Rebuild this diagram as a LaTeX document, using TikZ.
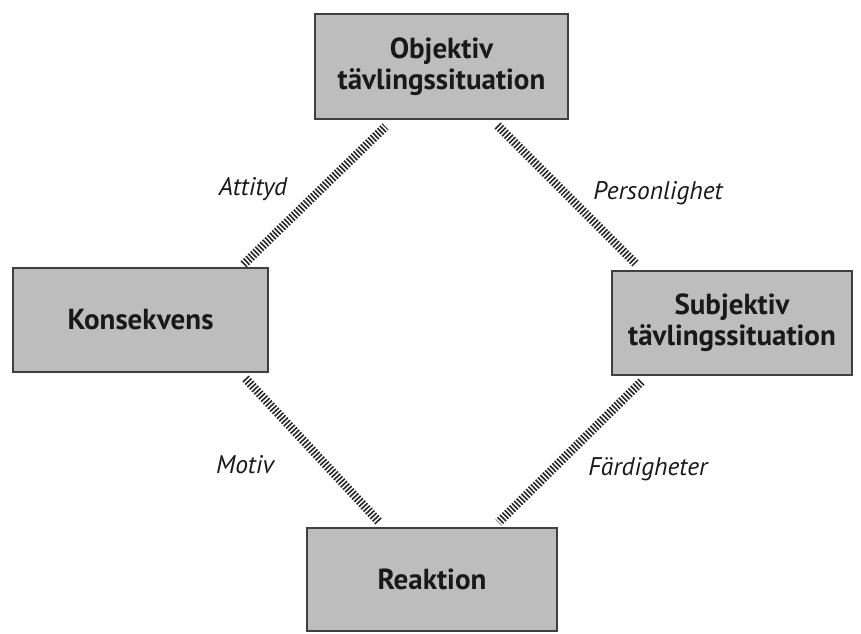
\documentclass[tikz,border=0pt]{standalone}
\usepackage{fontspec}
\setmainfont{PT Sans}
\usetikzlibrary{calc}

\begin{document}
\begin{tikzpicture}[
    box/.style={draw=black!75, line width=0.6pt, fill=black!26, minimum height=2.08cm,
                align=center, text=black!90, font=\bfseries\fontsize{16.5}{17.5}\selectfont},
    hatch/.style={line width=5pt, black!85, dash pattern=on 0.9pt off 1pt},
    lbl/.style={text=black!90, font=\itshape\fontsize{14.5}{16}\selectfont}]
  \useasboundingbox (0,0) rectangle (17.22,12.68);

  \node[box, minimum width=5.06cm, minimum height=2.1cm] (obj) at (8.83,11.35) {Objektiv\\tävlingssituation};
  \node[box, minimum width=5.1cm]  (kons) at (2.81,6.28)  {Konsekvens};
  \node[box, minimum width=4.8cm]  (subj) at (14.64,6.22) {Subjektiv\\tävlingssituation};
  \node[box, minimum width=5.0cm, minimum height=2.06cm] (reak) at (8.64,1.09) {Reaktion};

  \draw[hatch] ($(kons.north east)+(-0.5,0.06)$) -- ($(obj.south west)+(1.42,-0.14)$);
  \draw[hatch] ($(obj.south east)+(-1.42,-0.12)$) -- ($(subj.north west)+(0.48,0.14)$);
  \draw[hatch] ($(kons.south east)+(-0.46,-0.12)$) -- ($(reak.north west)+(1.46,0.1)$);
  \draw[hatch] ($(subj.south west)+(0.6,-0.12)$) -- ($(reak.north east)+(-1.18,0.1)$);

  \node[lbl] (att) at (5.06,8.90)  {Attityd};
  \node[lbl] (pers) at (13.16,8.82) {Personlighet};
  \node[lbl] (mot) at (4.90,3.38)  {Motiv};
  \node[lbl] (fard) at (12.96,3.30) {Färdigheter};
\end{tikzpicture}
\end{document}
